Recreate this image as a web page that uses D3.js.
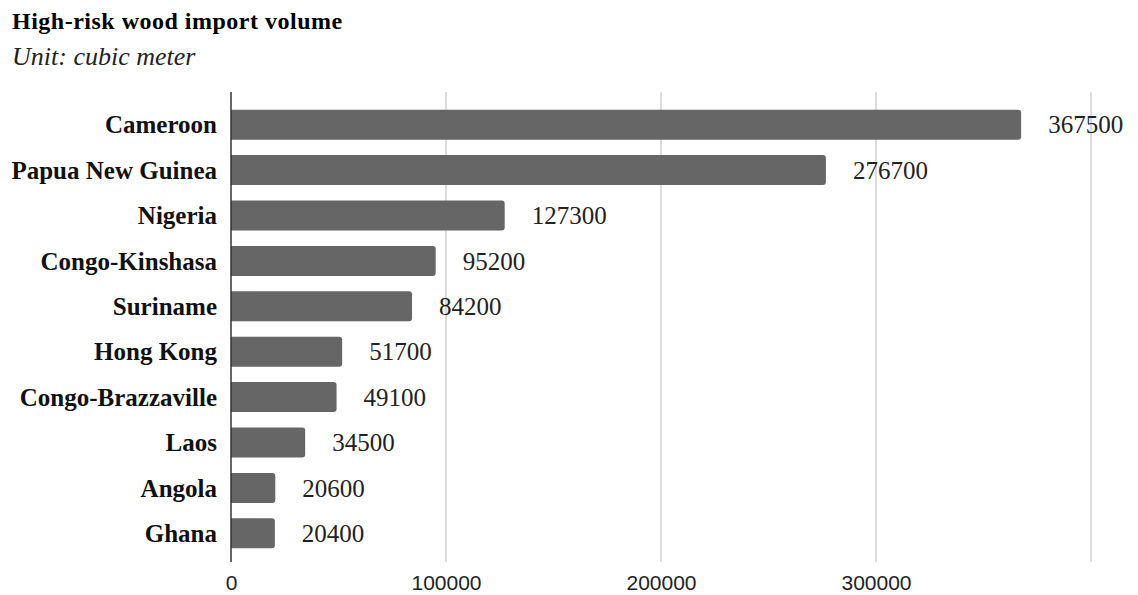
<!DOCTYPE html>
<html>
<head>
<meta charset="utf-8">
<script src="https://cdn.jsdelivr.net/npm/d3@7"></script>
<style>
  html, body { margin: 0; padding: 0; background: #fff; }
  svg { display: block; }
</style>
</head>
<body>
<svg id="chart" width="1138" height="595"></svg>
<script>
const categories = ["Cameroon","Papua New Guinea","Nigeria","Congo-Kinshasa","Suriname","Hong Kong","Congo-Brazzaville","Laos","Angola","Ghana"];
const values = [367500, 276700, 127300, 95200, 84200, 51700, 49100, 34500, 20600, 20400];
const gridValues = [100000, 200000, 300000, 400000];
const tickLabels = [0, 100000, 200000, 300000];
const titleText = "High-risk wood import volume";
const subtitleText = "Unit: cubic meter";

(function () {
const svg = d3.select("#chart");
const plotLeft = 231, plotRight = 1091;
const plotTop = 102, plotBottom = 556;

const x = d3.scaleLinear().domain([0, 400000]).range([plotLeft, plotRight]);
const y = d3.scaleBand().domain(categories).range([plotTop, plotBottom]).paddingInner(0.34).paddingOuter(0.17);

const serif = "'Liberation Serif', 'Times New Roman', serif";
const sans = "'Liberation Sans', Arial, sans-serif";

// Title
svg.append("text").attr("x", 12).attr("y", 29)
  .attr("font-family", serif).attr("font-weight", "bold").attr("font-size", 24)
  .attr("letter-spacing", 0.5)
  .attr("fill", "#000").text(titleText);
svg.append("text").attr("x", 12).attr("y", 65)
  .attr("font-family", serif).attr("font-style", "italic").attr("font-size", 26)
  .attr("fill", "#222").text(subtitleText);

// Gridlines
svg.append("g").selectAll("line").data(gridValues).join("line")
  .attr("x1", d => x(d)).attr("x2", d => x(d))
  .attr("y1", 92).attr("y2", 562)
  .attr("stroke", "#d0d0d0").attr("stroke-width", 1.5);

// Bars with rounded right corners
const r = 3;
svg.append("g").selectAll("path").data(categories).join("path")
  .attr("d", (c, i) => {
    const x0 = x(0), x1 = x(values[i]), y0 = y(c), h = y.bandwidth();
    return `M${x0},${y0} H${x1 - r} Q${x1},${y0} ${x1},${y0 + r} V${y0 + h - r} Q${x1},${y0 + h} ${x1 - r},${y0 + h} H${x0} Z`;
  })
  .attr("fill", "#666666");

// Zero axis line
svg.append("line").attr("x1", x(0)).attr("x2", x(0)).attr("y1", 92).attr("y2", 562)
  .attr("stroke", "#333").attr("stroke-width", 1.5);

// Category labels
svg.append("g").selectAll("text").data(categories).join("text")
  .attr("x", x(0) - 14)
  .attr("y", c => y(c) + y.bandwidth() / 2)
  .attr("dy", "0.35em")
  .attr("text-anchor", "end")
  .attr("font-family", serif).attr("font-weight", "bold").attr("font-size", 25)
  .attr("fill", "#111")
  .text(c => c);

// Value labels
svg.append("g").selectAll("text").data(categories).join("text")
  .attr("x", (c, i) => x(values[i]) + 27)
  .attr("y", c => y(c) + y.bandwidth() / 2)
  .attr("dy", "0.35em")
  .attr("font-family", serif).attr("font-size", 25)
  .attr("fill", "#222")
  .text((c, i) => values[i]);

// X axis tick labels (baseline kept inside the picture)
const xAxis = d3.axisBottom(x).tickValues(tickLabels).tickSize(0).tickPadding(0).tickFormat(d3.format("d"));
const gx = svg.append("g").attr("transform", `translate(0, 590)`).call(xAxis);
gx.select(".domain").remove();
gx.selectAll("text").attr("font-family", sans).attr("font-size", 21).attr("fill", "#222").attr("dy", 0).attr("y", 0);
})();
</script>
</body>
</html>
